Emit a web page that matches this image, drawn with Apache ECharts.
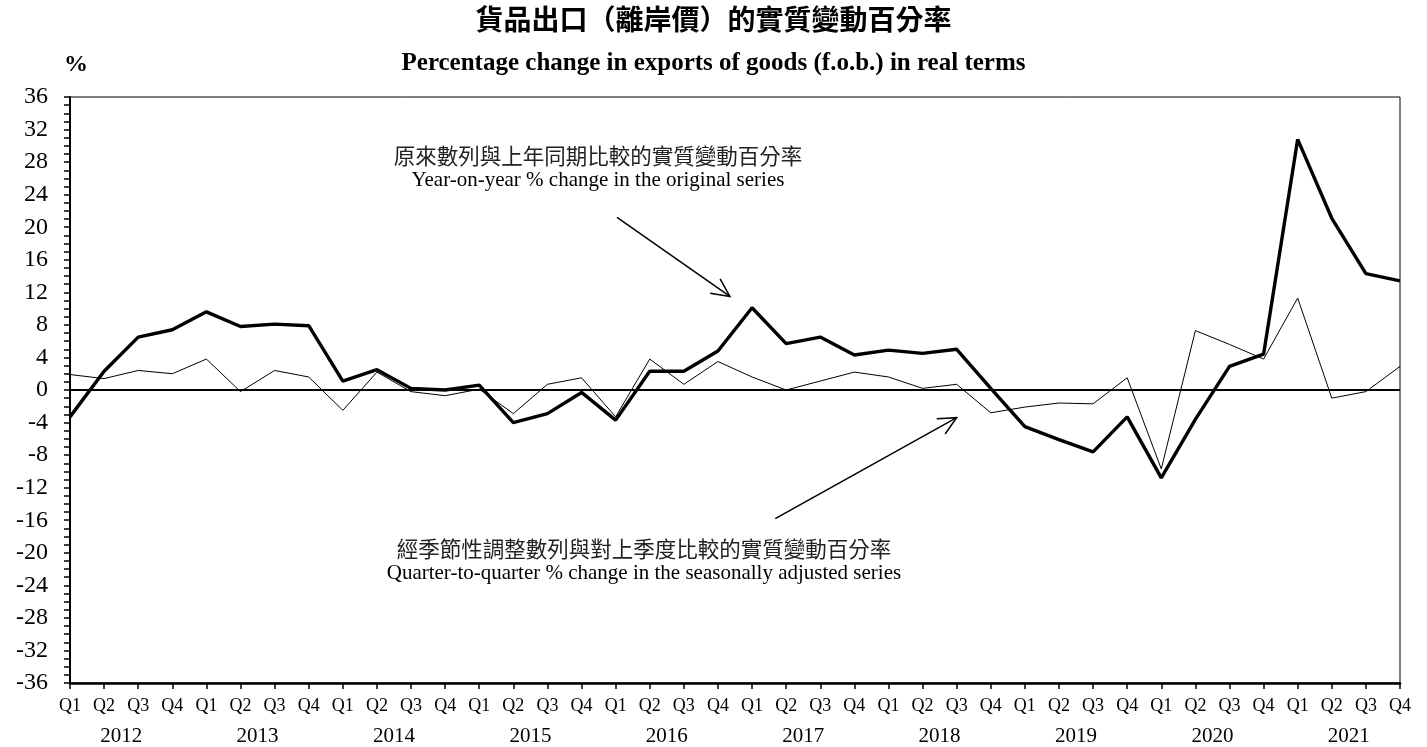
<!DOCTYPE html>
<html><head><meta charset="utf-8">
<script src="https://cdn.jsdelivr.net/npm/echarts@6/dist/echarts.min.js"></script>
<style>html,body{margin:0;padding:0;background:#fff}#c{width:1427px;height:747px}</style>
</head><body><div id="c"></div>
<script>
const quarters = ['Q1','Q2','Q3','Q4','Q1','Q2','Q3','Q4','Q1','Q2','Q3','Q4','Q1','Q2','Q3','Q4','Q1','Q2','Q3','Q4',
                  'Q1','Q2','Q3','Q4','Q1','Q2','Q3','Q4','Q1','Q2','Q3','Q4','Q1','Q2','Q3','Q4','Q1','Q2','Q3','Q4'];
const years = ['2012','2013','2014','2015','2016','2017','2018','2019','2020','2021'];
// Year-on-year % change in the original series
const yoy = [-3.3, 2.3, 6.5, 7.4, 9.6, 7.8, 8.1, 7.9, 1.1, 2.5, 0.2, 0.0, 0.6, -4.0, -2.9, -0.3, -3.7, 2.3, 2.3, 4.8,
             10.1, 5.7, 6.5, 4.3, 4.9, 4.5, 5.0, 0.2, -4.5, -6.1, -7.6, -3.3, -10.8, -3.6, 2.9, 4.4, 30.8, 21.1, 14.3, 13.4];
// Quarter-to-quarter % change in the seasonally adjusted series
const qoq = [1.9, 1.4, 2.4, 2.0, 3.8, -0.2, 2.4, 1.6, -2.5, 2.2, -0.2, -0.7, 0.1, -2.9, 0.7, 1.5, -3.3, 3.8, 0.7, 3.5,
             1.6, 0.0, 1.1, 2.2, 1.6, 0.2, 0.7, -2.8, -2.1, -1.6, -1.7, 1.5, -9.7, 7.3, 5.6, 3.8, 11.3, -1.0, -0.2, 2.9];

const serif = 'Liberation Serif, Times New Roman, serif';
const cjk = 'Noto Sans CJK TC, Noto Sans CJK SC, sans-serif';

const chart = echarts.init(document.getElementById('c'), null, {renderer: 'canvas'});
chart.setOption({
  backgroundColor: '#fff',
  animation: false,
  title: [
    {text: '貨品出口（離岸價）的實質變動百分率', left: 'center', top: 0,
     textStyle: {fontFamily: cjk, fontSize: 28, fontWeight: 'bold', color: '#000'}},
    {text: 'Percentage change in exports of goods (f.o.b.) in real terms', left: 'center', top: 46,
     textStyle: {fontFamily: serif, fontSize: 25, fontWeight: 'bold', color: '#000'}},
    {text: '%', left: 59, top: 48, textStyle: {fontFamily: serif, fontSize: 24, fontWeight: 'bold', color: '#000'}}
  ],
  grid: {left: 70, right: 27, top: 97, bottom: 63, show: true, borderColor: '#000', borderWidth: 1},
  xAxis: [
    {type: 'category', data: quarters, boundaryGap: false, position: 'bottom',
     axisLine: {show: true, onZero: false, lineStyle: {color: '#000', width: 2.5}},
     axisTick: {show: true, interval: 0, length: 6, lineStyle: {color: '#000', width: 1.5}},
     axisLabel: {interval: 0, margin: 14, fontFamily: serif, fontSize: 18, color: '#000'},
     splitLine: {show: false}},
    {type: 'value', min: 0, max: 39, position: 'bottom',
     axisLine: {show: false}, axisTick: {show: false}, splitLine: {show: false},
     axisLabel: {customValues: years.map((y, i) => 4 * i + 1.5), margin: 43, fontFamily: serif, fontSize: 21, color: '#000',
                 formatter: v => years[Math.round((v - 1.5) / 4)]}}
  ],
  yAxis: {type: 'value', min: -36, max: 36, interval: 4,
    axisLine: {show: true, lineStyle: {color: '#000', width: 2}},
    axisTick: {show: true, length: 6, lineStyle: {color: '#000', width: 1.5}},
    minorTick: {show: true, splitNumber: 4, length: 6, lineStyle: {color: '#000', width: 1.5}},
    axisLabel: {margin: 22, fontFamily: serif, fontSize: 24, color: '#000'},
    splitLine: {show: false}},
  series: [
    {name: 'qoq', type: 'line', data: qoq, xAxisIndex: 0, symbol: 'none', lineStyle: {color: '#000', width: 1}, z: 3,
     markLine: {silent: true, symbol: 'none', label: {show: false}, lineStyle: {color: '#000', width: 2, type: 'solid'},
                data: [{yAxis: 0}]}},
    {name: 'yoy', type: 'line', data: yoy, xAxisIndex: 0, symbol: 'none', lineStyle: {color: '#000', width: 3.4}, z: 4}
  ]
});

// annotation anchors in data space [x index, y value]
const ann = [
  {lines: ['原來數列與上年同期比較的實質變動百分率', 'Year-on-year % change in the original series'],
   at: [15.48, 28.8], arrow: [[16.04, 21.2], [19.35, 11.5]]},
  {lines: ['經季節性調整數列與對上季度比較的實質變動百分率', 'Quarter-to-quarter % change in the seasonally adjusted series'],
   at: [16.83, -19.5], arrow: [[20.68, -15.8], [26.0, -3.4]]}
];
function px(p) {
  return [chart.convertToPixel({xAxisIndex: 1}, p[0]), chart.convertToPixel({yAxisIndex: 0}, p[1])];
}
const g = [];
ann.forEach(a => {
  const c = px(a.at);
  g.push({type: 'text', z: 10, style: {text: a.lines[0], x: c[0], y: c[1], align: 'center', verticalAlign: 'middle',
          fontFamily: cjk, fontSize: 21.5, fill: '#222'}});
  g.push({type: 'text', z: 10, style: {text: a.lines[1], x: c[0], y: c[1] + 25, align: 'center', verticalAlign: 'middle',
          fontFamily: serif, fontSize: 21, fill: '#000'}});
  const s = px(a.arrow[0]), t = px(a.arrow[1]);
  const ang = Math.atan2(s[1] - t[1], s[0] - t[0]);
  const L = 20, d = 0.45;
  const h1 = [t[0] + L * Math.cos(ang + d), t[1] + L * Math.sin(ang + d)];
  const h2 = [t[0] + L * Math.cos(ang - d), t[1] + L * Math.sin(ang - d)];
  g.push({type: 'polyline', z: 10, shape: {points: [s, t]}, style: {stroke: '#000', lineWidth: 1.5, fill: null}});
  g.push({type: 'polyline', z: 10, shape: {points: [h1, t, h2]}, style: {stroke: '#000', lineWidth: 1.5, fill: null}});
});
chart.setOption({graphic: g});
</script>
</body></html>
